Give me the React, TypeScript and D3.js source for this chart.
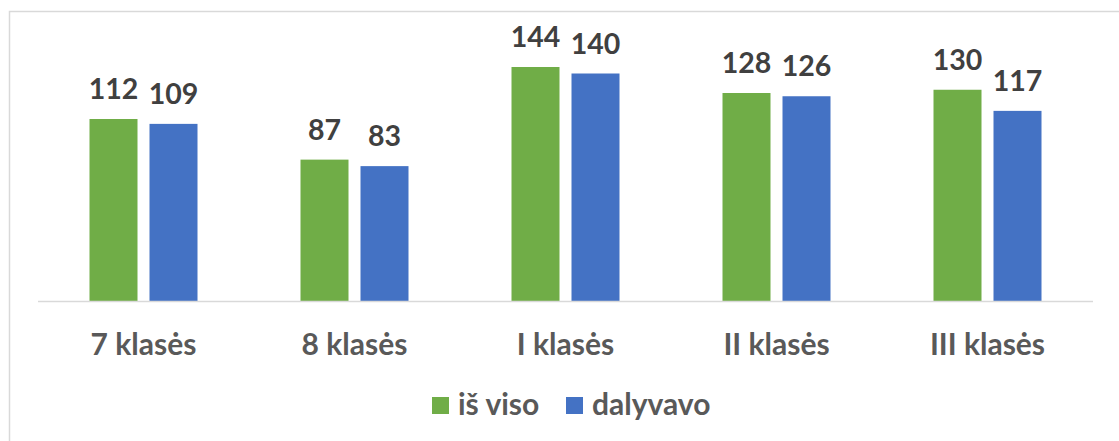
import { useEffect, useRef } from "react";
import * as d3 from "d3";

const categories = ["7 klasės", "8 klasės", "I klasės", "II klasės", "III klasės"];
const seriesNames = ["iš viso", "dalyvavo"];
const isViso = [112, 87, 144, 128, 130];
const dalyvavo = [109, 83, 140, 126, 117];
const colors = ["#70AD47", "#4472C4"];

const W = 1119;
const H = 441;
const FONT = "Lato, 'Open Sans', sans-serif";

export default function App() {
  const ref = useRef<SVGSVGElement>(null);

  useEffect(() => {
    const svg = d3.select(ref.current);
    svg.selectAll("*").remove();

    // chart frame
    svg
      .append("rect")
      .attr("x", 9.5)
      .attr("y", 11.5)
      .attr("width", 1200)
      .attr("height", 500)
      .attr("fill", "white")
      .attr("stroke", "#D9D9D9")
      .attr("stroke-width", 1.5);

    const left = 38;
    const right = 1093;
    const baseY = 301;

    const x0 = d3.scaleBand().domain(categories).range([left, right]);
    const x1 = d3
      .scaleBand()
      .domain(seriesNames)
      .range([0, 108])
      .paddingInner(0.2);
    const y = d3.scaleLinear().domain([0, 160]).range([baseY, baseY - 260]);

    const rows = categories.map((c, i) => ({
      cat: c,
      values: [isViso[i], dalyvavo[i]],
    }));

    const groups = svg
      .append("g")
      .selectAll("g")
      .data(rows)
      .join("g")
      .attr(
        "transform",
        (d) => `translate(${x0(d.cat)! + x0.bandwidth() / 2 - 54},0)`
      );

    groups
      .selectAll("rect")
      .data((d) => d.values.map((v, j) => ({ v, s: seriesNames[j], j })))
      .join("rect")
      .attr("x", (d) => x1(d.s)!)
      .attr("y", (d) => y(d.v))
      .attr("width", x1.bandwidth())
      .attr("height", (d) => baseY - y(d.v))
      .attr("fill", (d) => colors[d.j]);

    groups
      .selectAll("text")
      .data((d) => d.values.map((v, j) => ({ v, s: seriesNames[j] })))
      .join("text")
      .attr("x", (d) => x1(d.s)! + x1.bandwidth() / 2)
      .attr("y", (d) => y(d.v) - 20)
      .attr("text-anchor", "middle")
      .attr("font-family", FONT)
      .attr("font-weight", "bold")
      .attr("font-size", 28.5)
      .attr("fill", "#404040")
      .text((d) => d.v);

    // axis line
    svg
      .append("line")
      .attr("x1", left)
      .attr("x2", right)
      .attr("y1", baseY + 0.5)
      .attr("y2", baseY + 0.5)
      .attr("stroke", "#D9D9D9")
      .attr("stroke-width", 1.5);

    // category labels
    svg
      .append("g")
      .selectAll("text")
      .data(categories)
      .join("text")
      .attr("x", (d) => x0(d)! + x0.bandwidth() / 2)
      .attr("y", 355)
      .attr("text-anchor", "middle")
      .attr("font-family", FONT)
      .attr("font-weight", "bold")
      .attr("font-size", 30)
      .attr("fill", "#595959")
      .text((d) => d);

    // legend
    const legendX = [432, 566];
    const legend = svg
      .append("g")
      .selectAll("g")
      .data(seriesNames)
      .join("g")
      .attr("transform", (_, i) => `translate(${legendX[i]},397)`);
    legend
      .append("rect")
      .attr("width", 17)
      .attr("height", 17)
      .attr("fill", (_, i) => colors[i]);
    legend
      .append("text")
      .attr("x", 26)
      .attr("y", 18)
      .attr("font-family", FONT)
      .attr("font-weight", "bold")
      .attr("font-size", 30)
      .attr("fill", "#595959")
      .text((d) => d);
  }, []);

  return (
    <svg
      ref={ref}
      width={W}
      height={H}
      style={{ position: "absolute", left: 0, top: 0, background: "white" }}
    />
  );
}
